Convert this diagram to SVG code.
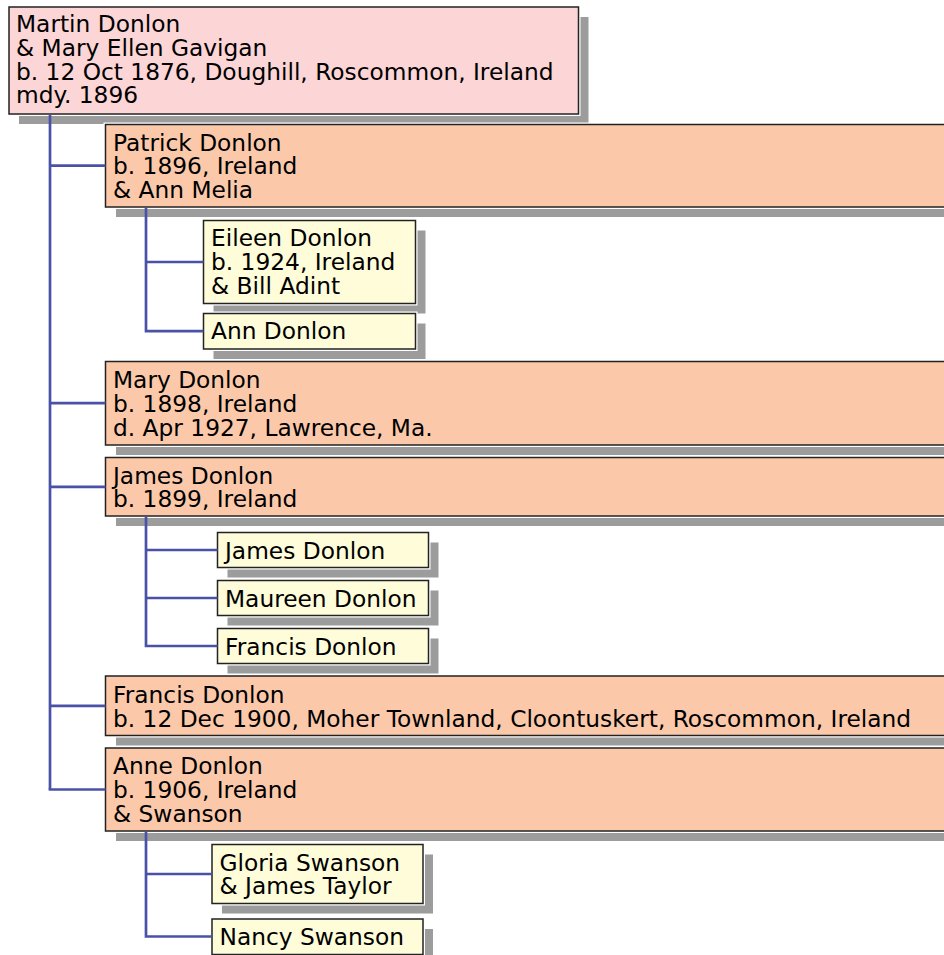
<svg xmlns="http://www.w3.org/2000/svg" width="944" height="955" viewBox="0 0 944 955">
<style>
.shadow{fill:#9c9c9c}
.halo{fill:none;stroke:#ffffff;stroke-width:4}
.box{stroke:#222222;stroke-width:1.5}
.root{fill:#fcd5d6}
.peach{fill:#fbc9aa}
.yellow{fill:#fefcd9}
text{font-family:"DejaVu Sans","Liberation Sans",sans-serif;font-size:23.3px;fill:#000000}
.conn{fill:none;stroke:#4a52a8;stroke-width:2.7;stroke-linecap:butt;stroke-linejoin:miter}
</style>
<rect x="0" y="0" width="944" height="955" fill="#ffffff"/>

<g id="n-martin">
<rect class="shadow" x="19" y="17" width="569.5" height="107"/>
<rect class="halo" x="9" y="7" width="569.5" height="107"/>
<rect class="box root" x="9" y="7" width="569.5" height="107"/>
<text x="16" y="32.3">Martin Donlon</text>
<text x="16" y="55.9">&amp; Mary Ellen Gavigan</text>
<text x="16" y="79.5">b. 12 Oct 1876, Doughill, Roscommon, Ireland</text>
<text x="16" y="103.1">mdy. 1896</text>
</g>

<g id="n-patrick">
<rect class="shadow" x="116" y="134.5" width="850" height="82.5"/>
<rect class="halo" x="105.5" y="124.5" width="850" height="82.5"/>
<rect class="box peach" x="105.5" y="124.5" width="850" height="82.5"/>
<text x="113" y="150.7">Patrick Donlon</text>
<text x="113" y="174.4">b. 1896, Ireland</text>
<text x="113" y="198.1">&amp; Ann Melia</text>
</g>

<g id="n-eileen">
<rect class="shadow" x="213.5" y="230.5" width="212" height="83"/>
<rect class="halo" x="203.5" y="220.5" width="212" height="83"/>
<rect class="box yellow" x="203.5" y="220.5" width="212" height="83"/>
<text x="211" y="246.4">Eileen Donlon</text>
<text x="211" y="270.1">b. 1924, Ireland</text>
<text x="211" y="293.8">&amp; Bill Adint</text>
</g>

<g id="n-ann">
<rect class="shadow" x="213.5" y="323.5" width="212" height="35.5"/>
<rect class="halo" x="203.5" y="313.5" width="212" height="35.5"/>
<rect class="box yellow" x="203.5" y="313.5" width="212" height="35.5"/>
<text x="211" y="339.2">Ann Donlon</text>
</g>

<g id="n-mary">
<rect class="shadow" x="116" y="371.5" width="850" height="83.5"/>
<rect class="halo" x="105.5" y="361.5" width="850" height="83.5"/>
<rect class="box peach" x="105.5" y="361.5" width="850" height="83.5"/>
<text x="113" y="387.7">Mary Donlon</text>
<text x="113" y="411.7">b. 1898, Ireland</text>
<text x="113" y="435.7">d. Apr 1927, Lawrence, Ma.</text>
</g>

<g id="n-james">
<rect class="shadow" x="116" y="467.5" width="850" height="58.5"/>
<rect class="halo" x="105.5" y="457.5" width="850" height="58.5"/>
<rect class="box peach" x="105.5" y="457.5" width="850" height="58.5"/>
<text x="113" y="483.5">James Donlon</text>
<text x="113" y="507.2">b. 1899, Ireland</text>
</g>

<g id="n-james-jr">
<rect class="shadow" x="227.5" y="542.5" width="211" height="35"/>
<rect class="halo" x="217.5" y="532.5" width="211" height="35"/>
<rect class="box yellow" x="217.5" y="532.5" width="211" height="35"/>
<text x="225" y="558.7">James Donlon</text>
</g>

<g id="n-maureen">
<rect class="shadow" x="227.5" y="590.5" width="211" height="35"/>
<rect class="halo" x="217.5" y="580.5" width="211" height="35"/>
<rect class="box yellow" x="217.5" y="580.5" width="211" height="35"/>
<text x="225" y="606.7">Maureen Donlon</text>
</g>

<g id="n-francis-jr">
<rect class="shadow" x="227.5" y="638.5" width="211" height="35"/>
<rect class="halo" x="217.5" y="628.5" width="211" height="35"/>
<rect class="box yellow" x="217.5" y="628.5" width="211" height="35"/>
<text x="225" y="654.7">Francis Donlon</text>
</g>

<g id="n-francis">
<rect class="shadow" x="116" y="686" width="850" height="59.5"/>
<rect class="halo" x="105.5" y="676" width="850" height="59.5"/>
<rect class="box peach" x="105.5" y="676" width="850" height="59.5"/>
<text x="113" y="702.7">Francis Donlon</text>
<text x="113" y="726.5">b. 12 Dec 1900, Moher Townland, Cloontuskert, Roscommon, Ireland</text>
</g>

<g id="n-anne">
<rect class="shadow" x="116" y="758" width="850" height="83"/>
<rect class="halo" x="105.5" y="748" width="850" height="83"/>
<rect class="box peach" x="105.5" y="748" width="850" height="83"/>
<text x="113" y="774.2">Anne Donlon</text>
<text x="113" y="798">b. 1906, Ireland</text>
<text x="113" y="821.6">&amp; Swanson</text>
</g>

<g id="n-gloria">
<rect class="shadow" x="222" y="854.5" width="211" height="59"/>
<rect class="halo" x="212" y="844.5" width="211" height="59"/>
<rect class="box yellow" x="212" y="844.5" width="211" height="59"/>
<text x="219.5" y="870.7">Gloria Swanson</text>
<text x="219.5" y="894.2">&amp; James Taylor</text>
</g>

<g id="n-nancy">
<rect class="shadow" x="222" y="929" width="211" height="35.5"/>
<rect class="halo" x="212" y="919" width="211" height="35.5"/>
<rect class="box yellow" x="212" y="919" width="211" height="35.5"/>
<text x="219.5" y="945.2">Nancy Swanson</text>
</g>

<g id="connectors">
<path class="conn" d="M50,114.8 V789.5"/>
<path class="conn" d="M50,165.7 H105.5"/>
<path class="conn" d="M50,403.2 H105.5"/>
<path class="conn" d="M50,486.8 H105.5"/>
<path class="conn" d="M50,705.8 H105.5"/>
<path class="conn" d="M48.65,789.5 H105.5"/>
<path class="conn" d="M146,207.8 V331.2 H203.5"/>
<path class="conn" d="M146,262 H203.5"/>
<path class="conn" d="M146,516.8 V646 H217.5"/>
<path class="conn" d="M146,550 H217.5"/>
<path class="conn" d="M146,598 H217.5"/>
<path class="conn" d="M146,831.8 V936.5 H212"/>
<path class="conn" d="M146,874 H212"/>
</g>
</svg>
